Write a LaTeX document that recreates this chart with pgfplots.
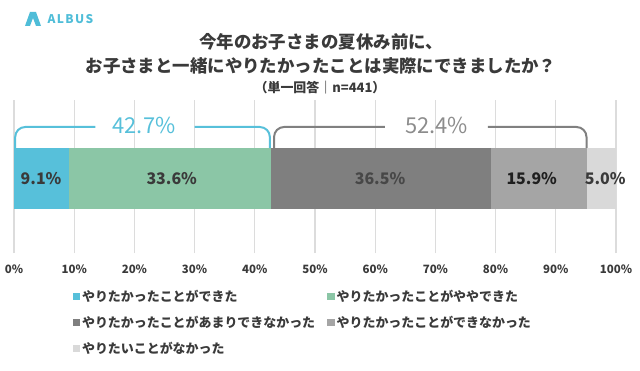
\documentclass[border=0pt]{standalone}
\usepackage{fontspec}
\setmainfont{Noto Sans CJK JP}
\usepackage{pgfplots}
\pgfplotsset{compat=1.18}
\definecolor{cBlue}{HTML}{57C0DA}
\definecolor{cGreen}{HTML}{8BC6A6}
\definecolor{cDark}{HTML}{7F7F7F}
\definecolor{cMid}{HTML}{A5A5A5}
\definecolor{cLight}{HTML}{D9D9D9}
\definecolor{cGrid}{HTML}{DCDCDC}
\definecolor{cText}{HTML}{3A3A3A}
\definecolor{cBrGray}{HTML}{808080}
\definecolor{cNumGray}{HTML}{8C8C8C}
\definecolor{cLogo}{HTML}{4FBDD8}
\begin{document}
\begin{tikzpicture}
\useasboundingbox (0bp,0bp) rectangle (640bp,371bp);
% logo
\fill[cLogo] (25bp,345bp) -- (30bp,359bp) -- (36bp,359bp) -- (41bp,345bp) -- (36bp,345bp) -- (33bp,353bp) -- (30bp,345bp) -- cycle;
\node[anchor=west, text=cLogo, font=\bfseries\fontsize{12}{12}\selectfont\addfontfeatures{LetterSpace=12}] at (44bp,352bp) {ALBUS};
% titles
\node[text=cText, font=\bfseries\fontsize{17.5}{18}\selectfont] at (321bp,329bp) {今年のお子さまの夏休み前に、};
\node[text=cText, font=\bfseries\fontsize{17.5}{18}\selectfont] at (321bp,305bp) {お子さまと一緒にやりたかったことは実際にできましたか？};
\node[text=cText, font=\bfseries\fontsize{13}{13}\selectfont] at (320bp,283bp) {（単一回答｜n=441）};
\begin{axis}[
  at={(14bp,118bp)}, anchor=south west,
  scale only axis, width=602bp, height=153bp,
  xmin=0, xmax=100, ymin=0, ymax=153,
  clip=false,
  axis line style={draw=none},
  major tick length=0pt,
  ytick=\empty,
  xtick={0,10,20,30,40,50,60,70,80,90,100},
  xticklabels={0\%,10\%,20\%,30\%,40\%,50\%,60\%,70\%,80\%,90\%,100\%},
  xticklabel style={font=\bfseries\fontsize{11.5}{12}\selectfont, text=cText, yshift=-8bp},
  xmajorgrids, grid style={cGrid, line width=1.2bp},
  xbar stacked, bar width=61bp,
  every axis plot post/.append style={legend image code/.code={\fill[#1,draw=none] (0bp,-3.5bp) rectangle (7.5bp,3.5bp);}},
  legend columns=2,
  legend cell align=left,
  legend style={at={(axis description cs:0.092,-0.215)}, anchor=north west, draw=none, fill=none,
    font=\bfseries\fontsize{13}{15}\selectfont, text=cText, row sep=9bp,
    /tikz/column 2/.style={column sep=10bp}},
]
\addplot[fill=cBlue, draw=none] coordinates {(9.1,74.5)};
\addplot[fill=cGreen, draw=none] coordinates {(33.6,74.5)};
\addplot[fill=cDark, draw=none] coordinates {(36.5,74.5)};
\addplot[fill=cMid, draw=none] coordinates {(15.9,74.5)};
\addplot[fill=cLight, draw=none] coordinates {(4.9,74.5)};
\legend{やりたかったことができた, やりたかったことがややできた, やりたかったことがあまりできなかった, やりたかったことができなかった, やりたいことがなかった}
\coordinate (v1) at (axis cs:4.5,74.5);
\coordinate (v2) at (axis cs:26.2,74.5);
\coordinate (v3) at (axis cs:60.8,74.5);
\coordinate (v4) at (axis cs:86.0,74.5);
\coordinate (v5) at (axis cs:98.2,74.5);
% brackets
\draw[cBlue, line width=2bp, rounded corners=10bp] (axis cs:0.2,104) |- (axis cs:13.5,126);
\draw[cBlue, line width=2bp, rounded corners=10bp] (axis cs:30,126) -| (axis cs:42.5,104);
\draw[cBrGray, line width=2bp, rounded corners=10bp] (axis cs:43.2,104) |- (axis cs:61.6,126);
\draw[cBrGray, line width=2bp, rounded corners=10bp] (axis cs:78.7,126) -| (axis cs:95.1,104);
\node[text=cBlue, font=\fontsize{22}{22}\selectfont] at (axis cs:21.6,128) {42.7\%};
\node[text=cNumGray, font=\fontsize{22}{22}\selectfont] at (axis cs:70.2,128) {52.4\%};
\end{axis}
% value labels
\node[font=\bfseries\fontsize{16}{16}\selectfont, text=cText] at (v1) {9.1\%};
\node[font=\bfseries\fontsize{16}{16}\selectfont, text=cText] at (v2) {33.6\%};
\node[font=\bfseries\fontsize{16}{16}\selectfont, text=black!72] at (v3) {36.5\%};
\node[font=\bfseries\fontsize{16}{16}\selectfont, text=black!88] at (v4) {15.9\%};
\node[font=\bfseries\fontsize{16}{16}\selectfont, text=cText] at (v5) {5.0\%};
\end{tikzpicture}
\end{document}
